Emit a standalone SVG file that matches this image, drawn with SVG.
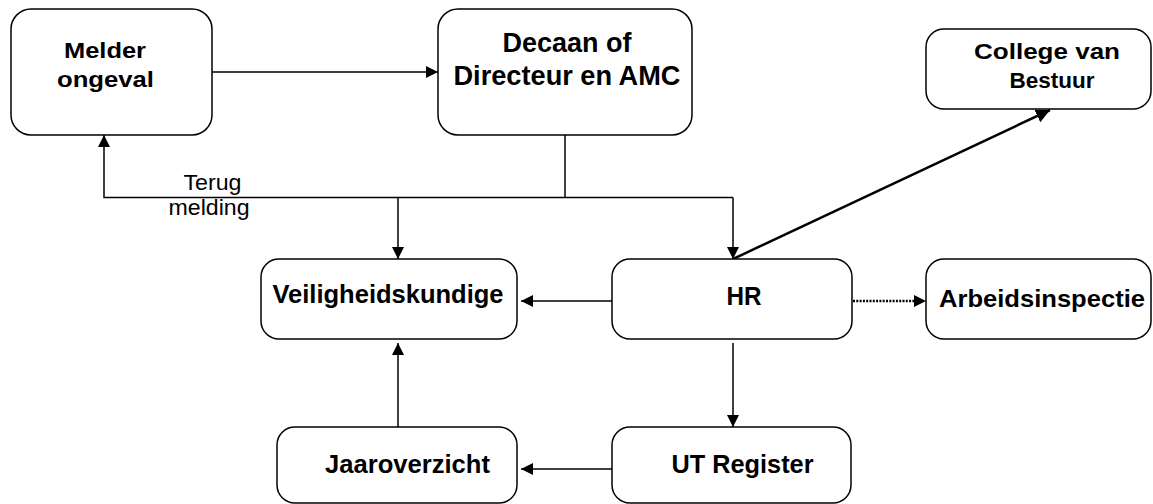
<svg xmlns="http://www.w3.org/2000/svg" width="1153" height="504" viewBox="0 0 1153 504">
<style>
.box{fill:#fff;stroke:#000;stroke-width:1.5}
.lbl{font-family:"Liberation Sans",Arial,sans-serif;font-weight:bold;text-anchor:middle;fill:#000}
.note{font-family:"Liberation Sans",Arial,sans-serif;text-anchor:middle;fill:#000}
.ln{fill:none;stroke:#000;stroke-width:1.5}
</style>
<defs>
<marker id="ah" viewBox="0 0 12 12" refX="12" refY="6" markerWidth="12" markerHeight="12" orient="auto" markerUnits="userSpaceOnUse">
<path d="M0,0 L12,6 L0,12 z" fill="#000"/>
</marker>
<marker id="ahb" viewBox="0 0 14 14" refX="14" refY="7" markerWidth="14" markerHeight="14" orient="auto" markerUnits="userSpaceOnUse">
<path d="M0,0 L14,7 L0,14 z" fill="#000"/>
</marker>
</defs>
<rect width="1153" height="504" fill="#fff"/>
<g id="connectors">
<path class="ln" d="M212,72 H438" marker-end="url(#ah)"/>
<path class="ln" d="M565,135 V197.5"/>
<path class="ln" d="M733,197.5 H104 V135" marker-end="url(#ah)"/>
<path class="ln" d="M398,197.5 V259" marker-end="url(#ah)"/>
<path class="ln" d="M733,197.5 V259" marker-end="url(#ah)"/>
<path class="ln" style="stroke-width:2.5" d="M733,259 L1050,110" marker-end="url(#ahb)"/>
<path class="ln" d="M612,301 H521" marker-end="url(#ah)"/>
<path class="ln" style="stroke-width:2.5;stroke-dasharray:2,1.3" d="M853,301 H914"/>
<path d="M914,295 L926,301 L914,307 z" fill="#000"/>
<path class="ln" d="M733,343 V427" marker-end="url(#ah)"/>
<path class="ln" d="M612,469 H521" marker-end="url(#ah)"/>
<path class="ln" d="M398,427 V343" marker-end="url(#ah)"/>
<text class="note" x="212.5" y="190" font-size="22" textLength="58" lengthAdjust="spacingAndGlyphs">Terug</text>
<text class="note" x="209" y="215" font-size="22" textLength="81" lengthAdjust="spacingAndGlyphs">melding</text>
</g>
<g id="melder">
<rect class="box" x="11" y="9" width="201" height="126" rx="20"/>
<text class="lbl" x="105" y="58" font-size="22" textLength="82" lengthAdjust="spacingAndGlyphs">Melder</text>
<text class="lbl" x="105.5" y="87" font-size="22" textLength="97" lengthAdjust="spacingAndGlyphs">ongeval</text>
</g>
<g id="decaan">
<rect class="box" x="438" y="9" width="254" height="126" rx="20"/>
<text class="lbl" x="567" y="52" font-size="27" textLength="129" lengthAdjust="spacingAndGlyphs">Decaan of</text>
<text class="lbl" x="567" y="85" font-size="27" textLength="227" lengthAdjust="spacingAndGlyphs">Directeur en AMC</text>
</g>
<g id="college">
<rect class="box" x="926" y="29" width="225" height="80" rx="18"/>
<text class="lbl" x="1047" y="59" font-size="22" textLength="146" lengthAdjust="spacingAndGlyphs">College van</text>
<text class="lbl" x="1052" y="88" font-size="22" textLength="85" lengthAdjust="spacingAndGlyphs">Bestuur</text>
</g>
<g id="veiligheidskundige">
<rect class="box" x="261" y="259" width="256" height="80" rx="18"/>
<text class="lbl" x="388" y="303" font-size="25" textLength="231" lengthAdjust="spacingAndGlyphs">Veiligheidskundige</text>
</g>
<g id="hr">
<rect class="box" x="612" y="259" width="240" height="80" rx="18"/>
<text class="lbl" x="744" y="305" font-size="25" textLength="35" lengthAdjust="spacingAndGlyphs">HR</text>
</g>
<g id="arbeidsinspectie">
<rect class="box" x="926" y="259" width="225" height="80" rx="18"/>
<text class="lbl" x="1042" y="307" font-size="24" textLength="206" lengthAdjust="spacingAndGlyphs">Arbeidsinspectie</text>
</g>
<g id="jaaroverzicht">
<rect class="box" x="277" y="427" width="240" height="76" rx="18"/>
<text class="lbl" x="407.5" y="472.5" font-size="25" textLength="165" lengthAdjust="spacingAndGlyphs">Jaaroverzicht</text>
</g>
<g id="utregister">
<rect class="box" x="612" y="427" width="239" height="76" rx="18"/>
<text class="lbl" x="742.5" y="473" font-size="25" textLength="142" lengthAdjust="spacingAndGlyphs">UT Register</text>
</g>
</svg>
